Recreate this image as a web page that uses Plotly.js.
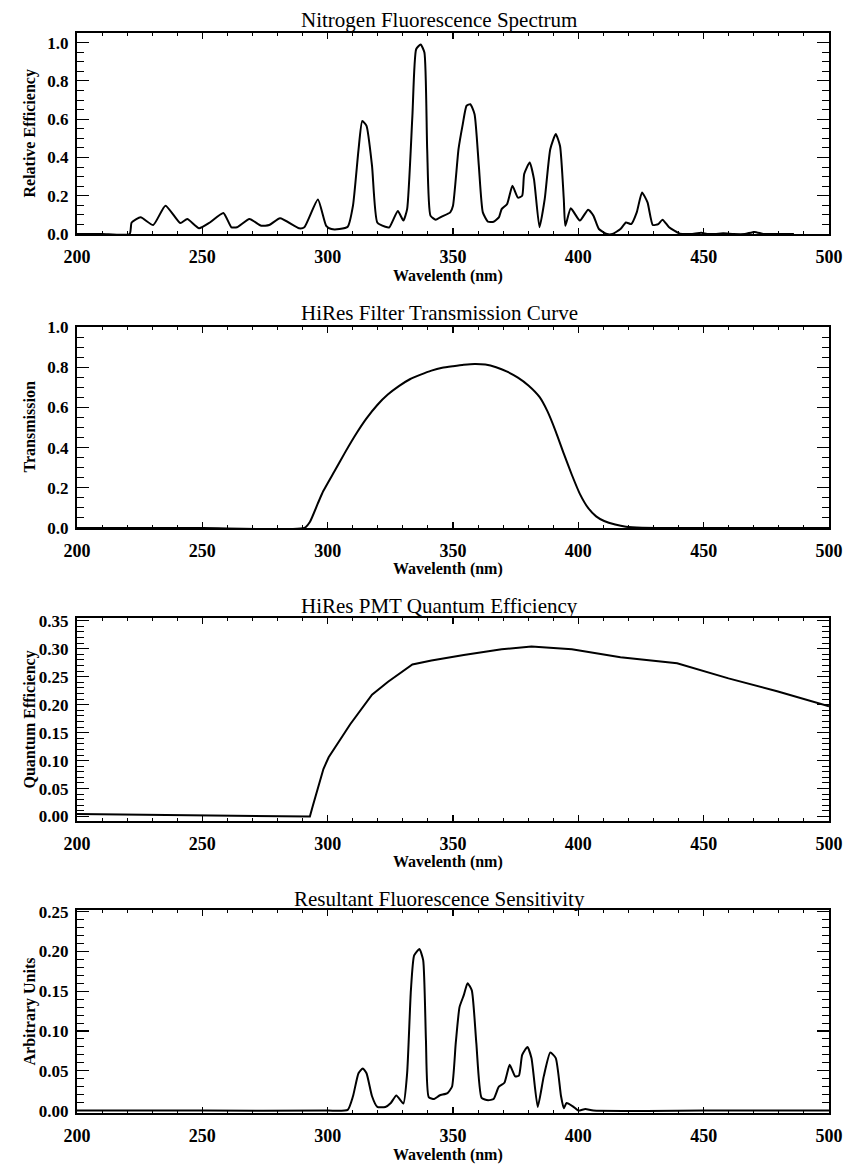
<!DOCTYPE html>
<html>
<head>
<meta charset="utf-8">
<script src="https://cdn.plot.ly/plotly-3.0.1.min.js"></script>
<style>html,body{margin:0;padding:0;background:#fff;}#chart{width:844px;height:1167px;}</style>
</head>
<body>
<div id="chart"></div>
<script>
// ---------- Data ----------
const panelTitles = ["Nitrogen Fluorescence Spectrum", "HiRes Filter Transmission Curve", "HiRes PMT Quantum Efficiency", "Resultant Fluorescence Sensitivity"];
const yTitles = ["Relative Efficiency", "Transmission", "Quantum Efficiency", "Arbitrary Units"];
const xTitle = "Wavelenth (nm)";
const xTickVals = [200, 250, 300, 350, 400, 450, 500];

const n2Wave = [200, 210, 221, 221.8, 225.4, 230.4, 235.3, 241.2, 244, 248.7, 253, 258.4, 261.6, 263.8, 268.8, 273.5, 276.7, 281, 288.6, 290.7, 296.1, 299.4, 301.5, 304.7, 308, 310.1, 312.3, 313.8, 315.5, 317.7, 319.8, 323, 324.6, 328, 330.2, 331.7, 333.8, 335.3, 337.1, 338.6, 339.7, 341, 343.1, 345.7, 348.9, 350, 352.2, 353.9, 355.4, 356.9, 358.6, 360.3, 361.9, 364, 366.2, 368.3, 369.4, 371.6, 373.7, 375.9, 377.6, 378.4, 380.6, 382.3, 384.5, 386.6, 388.8, 391, 392.7, 394.2, 394.8, 397, 400.6, 403.9, 406, 408.2, 411.4, 413.6, 416.8, 419, 421.1, 423.3, 425.4, 427.6, 429.7, 431.9, 433.6, 436.2, 440.5, 444.8, 449.1, 451.3, 454.5, 457.8, 462, 466.4, 470.3, 473.9, 479.3, 486];
const n2Eff = [0, 0, 0, 0.06, 0.087, 0.047, 0.148, 0.057, 0.078, 0.03, 0.06, 0.11, 0.035, 0.035, 0.078, 0.043, 0.047, 0.082, 0.03, 0.035, 0.18, 0.043, 0.026, 0.026, 0.038, 0.148, 0.44, 0.59, 0.565, 0.356, 0.06, 0.038, 0.035, 0.12, 0.07, 0.13, 0.617, 0.965, 0.99, 0.948, 0.443, 0.096, 0.075, 0.092, 0.113, 0.148, 0.443, 0.574, 0.67, 0.678, 0.626, 0.357, 0.113, 0.064, 0.064, 0.087, 0.13, 0.157, 0.252, 0.19, 0.2, 0.313, 0.374, 0.287, 0.035, 0.183, 0.443, 0.522, 0.46, 0.183, 0.043, 0.134, 0.07, 0.127, 0.096, 0.026, 0, 0, 0.026, 0.06, 0.052, 0.113, 0.217, 0.165, 0.047, 0.052, 0.075, 0.035, 0.002, 0, 0.006, 0, 0, 0.004, 0, 0, 0.011, 0, 0, 0];

const filterWave = [200, 250, 290.7, 292.9, 296, 298.3, 302.6, 306.9, 311.2, 315.5, 319.8, 324.1, 328.4, 332.8, 337.1, 341.4, 345.7, 350, 354.3, 358.6, 362.9, 367.2, 371.6, 375.9, 380.2, 384.5, 387.7, 391, 394.2, 397.4, 400.6, 403.9, 407.1, 410.3, 414.7, 419, 425.4, 440, 500];
const filterTrans = [0, 0, 0, 0.03, 0.12, 0.185, 0.28, 0.375, 0.465, 0.545, 0.612, 0.665, 0.706, 0.74, 0.763, 0.783, 0.797, 0.805, 0.812, 0.816, 0.813, 0.8, 0.778, 0.748, 0.708, 0.652, 0.58, 0.48, 0.37, 0.265, 0.17, 0.1, 0.058, 0.035, 0.017, 0.006, 0.001, 0, 0];

const qeWave = [200, 219.6, 233.6, 255, 272.4, 292.9, 294, 296.1, 298.3, 300.4, 309, 317.7, 324.1, 333.8, 341.4, 354.3, 369.4, 381.3, 386.6, 397.4, 416.8, 439.4, 459.9, 479.3, 500];
const qeVal = [0.0047, 0.0035, 0.0024, 0.001, 0.0006, 0, 0.018, 0.053, 0.085, 0.106, 0.165, 0.218, 0.241, 0.272, 0.279, 0.289, 0.299, 0.304, 0.302, 0.299, 0.285, 0.274, 0.247, 0.224, 0.197];

const sensWave = [200, 250, 300, 308, 310.1, 312.3, 314, 315.5, 317.7, 319.8, 323, 325.2, 327.4, 330.2, 331.7, 333.2, 334.5, 336.6, 338.1, 339.2, 340.3, 342.5, 344.6, 347.8, 349.6, 351.1, 352.6, 354.3, 355.8, 357.5, 359.3, 361.4, 364, 366.2, 368.3, 370.5, 372.6, 374.8, 376.3, 377.6, 379.7, 381.3, 383.8, 386.2, 388.8, 391, 393.1, 394.2, 395.3, 397.8, 400, 402.8, 406, 450, 500];
const sensVal = [0, 0, 0, 0.001, 0.018, 0.047, 0.053, 0.047, 0.018, 0.0046, 0.0046, 0.0096, 0.019, 0.009, 0.047, 0.151, 0.195, 0.203, 0.189, 0.089, 0.017, 0.0146, 0.019, 0.022, 0.03, 0.085, 0.13, 0.145, 0.16, 0.151, 0.085, 0.016, 0.013, 0.0146, 0.03, 0.035, 0.0575, 0.043, 0.044, 0.07, 0.08, 0.066, 0.0046, 0.043, 0.073, 0.066, 0.018, 0.003, 0.0096, 0.0054, 0, 0.002, 0, 0, 0];

const yTickVals = [
  [0, 0.2, 0.4, 0.6, 0.8, 1.0],
  [0, 0.2, 0.4, 0.6, 0.8, 1.0],
  [0, 0.05, 0.10, 0.15, 0.20, 0.25, 0.30, 0.35],
  [0, 0.05, 0.10, 0.15, 0.20, 0.25]
];
const yTickText = [
  ["0.0", "0.2", "0.4", "0.6", "0.8", "1.0"],
  ["0.0", "0.2", "0.4", "0.6", "0.8", "1.0"],
  ["0.00", "0.05", "0.10", "0.15", "0.20", "0.25", "0.30", "0.35"],
  ["0.00", "0.05", "0.10", "0.15", "0.20", "0.25"]
];

// ---------- Layout geometry (pixels) ----------
const W = 844, H = 1167;
const L = 77, R = 829, T = 33, B = 1113;
const boxes = [[33, 234], [327, 528], [618, 821], [910, 1113]];
const yRanges = [[0, 1.05], [0, 1.0], [-0.008, 0.355], [-0.003, 0.252]];
const yMinor = [0.05, 0.05, 0.01, 0.01];
const titleY = [20, 313, 606, 899];
const xTitleY = [276, 569, 862, 1155];
const fy = px => (B - px) / (B - T);
const fx = px => (px - L) / (R - L);

const FONT = "Liberation Serif";

const xs = [n2Wave, filterWave, qeWave, sensWave];
const ys = [n2Eff, filterTrans, qeVal, sensVal];
const shapes = ['spline', 'spline', 'linear', 'spline'];

const data = xs.map((x, i) => ({
  x: x, y: ys[i], type: 'scatter', mode: 'lines',
  xaxis: i === 0 ? 'x' : 'x' + (i + 1),
  yaxis: i === 0 ? 'y' : 'y' + (i + 1),
  line: {color: '#000', width: 2, shape: shapes[i], smoothing: 0.5},
  hoverinfo: 'skip', showlegend: false
}));

const layout = {
  width: W, height: H,
  margin: {l: L, r: W - R, t: T, b: H - B, pad: 0},
  paper_bgcolor: '#fff', plot_bgcolor: '#fff',
  showlegend: false,
  annotations: []
};

for (let i = 0; i < 4; i++) {
  const sx = i === 0 ? '' : String(i + 1);
  layout['xaxis' + sx] = {
    anchor: 'y' + sx, domain: [0, 1], range: [200, 500],
    tickvals: xTickVals, ticktext: xTickVals.map(String),
    ticks: 'inside', ticklen: 6, tickwidth: 1.2, tickcolor: '#000',
    minor: {dtick: 10, tick0: 200, ticks: 'inside', ticklen: 3, tickwidth: 1, tickcolor: '#000', showgrid: false},
    showline: true, linecolor: '#000', linewidth: 2, mirror: 'ticks',
    showgrid: false, zeroline: false, ticklabelstandoff: 5,
    tickfont: {family: FONT, size: 18, color: '#000', weight: 'bold'}
  };
  layout['yaxis' + sx] = {
    anchor: 'x' + sx, domain: [fy(boxes[i][1]), fy(boxes[i][0])], range: yRanges[i],
    tickvals: yTickVals[i], ticktext: yTickText[i],
    ticks: 'inside', ticklen: 12, tickwidth: 1.2, tickcolor: '#000',
    minor: {dtick: yMinor[i], tick0: 0, ticks: 'inside', ticklen: 7, tickwidth: 1, tickcolor: '#000', showgrid: false},
    showline: true, linecolor: '#000', linewidth: 2, mirror: 'ticks',
    showgrid: false, zeroline: false, ticklabelstandoff: 3,
    tickfont: {family: FONT, size: 17, color: '#000', weight: 'bold'}
  };
  layout.annotations.push({
    text: panelTitles[i], xref: 'paper', yref: 'paper', x: fx(439), y: fy(titleY[i]),
    xanchor: 'center', yanchor: 'middle', showarrow: false,
    font: {family: FONT, size: 21, color: '#000'}
  });
  layout.annotations.push({
    text: '<b>' + xTitle + '</b>', xref: 'paper', yref: 'paper', x: fx(448), y: fy(xTitleY[i]),
    xanchor: 'center', yanchor: 'middle', showarrow: false,
    font: {family: FONT, size: 16, color: '#000'}
  });
  layout.annotations.push({
    text: '<b>' + yTitles[i] + '</b>', xref: 'paper', yref: 'paper', x: fx(29), y: fy((boxes[i][0] + boxes[i][1]) / 2),
    xanchor: 'center', yanchor: 'middle', showarrow: false, textangle: -90,
    font: {family: FONT, size: 16, color: '#000'}
  });
}

Plotly.newPlot('chart', data, layout, {displayModeBar: false, staticPlot: true});
</script>
</body>
</html>
